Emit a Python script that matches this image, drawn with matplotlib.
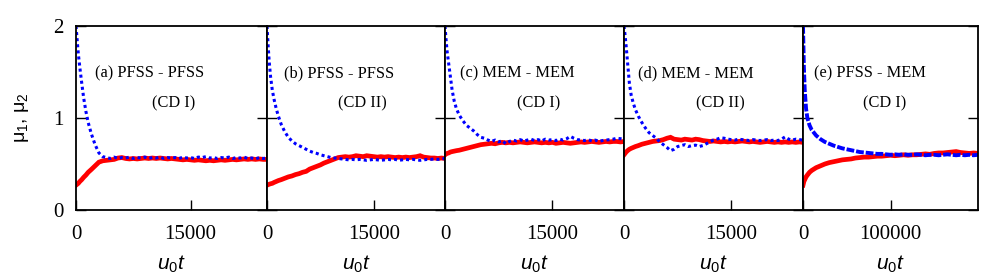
import matplotlib
matplotlib.use("Agg")
import matplotlib.pyplot as plt

plt.rcParams['mathtext.fontset'] = 'custom'
plt.rcParams['mathtext.rm'] = 'Liberation Sans'
plt.rcParams['mathtext.it'] = 'Liberation Sans:italic'

# ---------------- data ----------------
t_short = [0, 150, 300, 500, 750, 1000, 1300, 1600, 2000, 2500, 3000, 3500,
           4000, 4500, 5000, 5500, 6000, 6500, 7000, 7500, 8000, 8500, 9000, 9500,
           10000, 10500, 11000, 11500, 12000, 12500, 13000, 13500, 14000, 14500,
           15000, 15500, 16000, 16500, 17000, 17500, 18000, 18500, 19000, 19500,
           20000, 20500, 21000, 21500, 22000, 22500, 23000, 23500, 24000, 24500, 25000]

t_long = [0, 1000, 2000, 3500, 5000, 7500, 10000, 15000, 20000, 25000, 30000, 35000, 40000,
          45000, 50000, 55000, 60000, 65000, 70000, 75000, 80000, 85000, 90000, 95000,
          100000, 105000, 110000, 115000, 120000, 125000, 130000, 135000, 140000, 145000,
          150000, 155000, 160000, 165000, 170000, 175000, 180000, 185000, 190000, 195000, 200000]

mu2_a = [2.00, 1.85, 1.70, 1.55, 1.38, 1.22, 1.07, 0.95, 0.83, 0.71, 0.62, 0.58,
         0.57, 0.56, 0.575, 0.56, 0.57, 0.565, 0.575, 0.56, 0.57, 0.565, 0.575, 0.56,
         0.57, 0.565, 0.575, 0.56, 0.57, 0.565, 0.57, 0.56, 0.575, 0.565,
         0.57, 0.56, 0.575, 0.57, 0.58, 0.565, 0.57, 0.56, 0.57, 0.565,
         0.575, 0.56, 0.57, 0.565, 0.575, 0.56, 0.565, 0.555, 0.57, 0.56, 0.565]
mu1_a = [0.27, 0.28, 0.29, 0.31, 0.33, 0.355, 0.38, 0.41, 0.44, 0.48, 0.52, 0.535,
         0.54, 0.545, 0.55, 0.565, 0.57, 0.56, 0.555, 0.56, 0.555, 0.56, 0.565, 0.56,
         0.565, 0.56, 0.565, 0.56, 0.555, 0.56, 0.555, 0.55, 0.545, 0.55,
         0.545, 0.54, 0.545, 0.54, 0.535, 0.54, 0.535, 0.54, 0.545, 0.54,
         0.545, 0.55, 0.545, 0.55, 0.555, 0.55, 0.555, 0.55, 0.555, 0.55, 0.55]

mu2_b = [2.00, 1.80, 1.62, 1.45, 1.30, 1.20, 1.10, 1.02, 0.93, 0.85, 0.79, 0.75,
         0.72, 0.70, 0.68, 0.66, 0.64, 0.625, 0.615, 0.60, 0.59, 0.58, 0.57, 0.565,
         0.56, 0.555, 0.55, 0.545, 0.55, 0.545, 0.55, 0.545, 0.54, 0.545,
         0.55, 0.545, 0.54, 0.545, 0.55, 0.545, 0.55, 0.54, 0.545, 0.55,
         0.545, 0.55, 0.545, 0.54, 0.545, 0.55, 0.55, 0.555, 0.55, 0.555, 0.56]
mu1_b = [0.27, 0.275, 0.28, 0.285, 0.29, 0.30, 0.31, 0.32, 0.33, 0.345, 0.36, 0.37,
         0.385, 0.395, 0.41, 0.42, 0.445, 0.46, 0.475, 0.49, 0.51, 0.525, 0.54, 0.555,
         0.57, 0.575, 0.58, 0.575, 0.58, 0.59, 0.585, 0.58, 0.59, 0.585,
         0.58, 0.575, 0.58, 0.575, 0.58, 0.575, 0.57, 0.575, 0.57, 0.575,
         0.57, 0.575, 0.58, 0.59, 0.575, 0.57, 0.565, 0.565, 0.56, 0.565, 0.56]

mu2_c = [2.00, 1.85, 1.72, 1.60, 1.45, 1.30, 1.18, 1.10, 1.03, 0.97, 0.92, 0.89,
         0.86, 0.82, 0.79, 0.78, 0.76, 0.745, 0.76, 0.74, 0.755, 0.72, 0.745, 0.76,
         0.75, 0.765, 0.75, 0.76, 0.77, 0.755, 0.765, 0.75, 0.77, 0.76,
         0.765, 0.755, 0.77, 0.76, 0.775, 0.80, 0.78, 0.765, 0.76, 0.755,
         0.765, 0.75, 0.76, 0.745, 0.755, 0.76, 0.765, 0.77, 0.78, 0.775, 0.77]
mu1_c = [0.60, 0.61, 0.615, 0.62, 0.63, 0.635, 0.64, 0.645, 0.65, 0.66, 0.67, 0.68,
         0.69, 0.70, 0.71, 0.715, 0.72, 0.725, 0.72, 0.73, 0.735, 0.73, 0.735, 0.73,
         0.735, 0.74, 0.735, 0.73, 0.735, 0.74, 0.735, 0.73, 0.735, 0.73,
         0.735, 0.725, 0.73, 0.735, 0.73, 0.725, 0.73, 0.735, 0.74, 0.735,
         0.74, 0.745, 0.74, 0.735, 0.74, 0.745, 0.74, 0.745, 0.745, 0.74, 0.745]

mu2_d = [2.00, 1.90, 1.78, 1.60, 1.38, 1.25, 1.16, 1.09, 1.02, 0.95, 0.89, 0.84,
         0.81, 0.78, 0.74, 0.71, 0.68, 0.645, 0.66, 0.69, 0.70, 0.71, 0.69, 0.70,
         0.705, 0.69, 0.70, 0.72, 0.74, 0.76, 0.77, 0.785, 0.78, 0.77,
         0.765, 0.76, 0.77, 0.765, 0.76, 0.755, 0.765, 0.76, 0.755, 0.76,
         0.765, 0.755, 0.76, 0.755, 0.77, 0.795, 0.77, 0.76, 0.77, 0.765, 0.76]
mu1_d = [0.60, 0.615, 0.63, 0.645, 0.66, 0.67, 0.68, 0.69, 0.70, 0.715, 0.725, 0.735,
         0.745, 0.75, 0.755, 0.765, 0.78, 0.79, 0.77, 0.765, 0.76, 0.77, 0.765, 0.76,
         0.77, 0.765, 0.755, 0.75, 0.745, 0.75, 0.745, 0.74, 0.745, 0.74,
         0.745, 0.74, 0.745, 0.75, 0.745, 0.74, 0.745, 0.74, 0.735, 0.74,
         0.745, 0.74, 0.735, 0.74, 0.735, 0.74, 0.735, 0.74, 0.735, 0.74, 0.735]

mu2_e = [2.00, 1.55, 1.30, 1.10, 1.00, 0.92, 0.87, 0.81, 0.77, 0.74, 0.72, 0.70, 0.685,
         0.67, 0.66, 0.65, 0.64, 0.63, 0.625, 0.62, 0.615, 0.61, 0.61, 0.605,
         0.60, 0.605, 0.60, 0.605, 0.60, 0.60, 0.605, 0.60, 0.595, 0.60,
         0.60, 0.595, 0.60, 0.605, 0.60, 0.595, 0.60, 0.595, 0.60, 0.595, 0.60]
mu1_e = [0.27, 0.31, 0.33, 0.36, 0.38, 0.41, 0.43, 0.46, 0.48, 0.50, 0.515, 0.525, 0.535,
         0.545, 0.55, 0.555, 0.565, 0.57, 0.575, 0.575, 0.58, 0.585, 0.585, 0.59,
         0.595, 0.59, 0.595, 0.60, 0.595, 0.60, 0.60, 0.605, 0.61, 0.605,
         0.615, 0.62, 0.62, 0.625, 0.63, 0.635, 0.625, 0.62, 0.615, 0.62, 0.615]

panel_titles = ["(a) PFSS - PFSS", "(b) PFSS - PFSS", "(c) MEM - MEM",
                "(d) MEM - MEM", "(e) PFSS - MEM"]
panel_cd = ["(CD I)", "(CD II)", "(CD I)", "(CD II)", "(CD I)"]
x_ticks_short = [0, 15000]
x_ticks_long = [0, 100000]
y_ticks = [0, 1, 2]

panels = [
    (t_short, mu1_a, mu2_a, 25000, x_ticks_short),
    (t_short, mu1_b, mu2_b, 25000, x_ticks_short),
    (t_short, mu1_c, mu2_c, 25000, x_ticks_short),
    (t_short, mu1_d, mu2_d, 25000, x_ticks_short),
    (t_long, mu1_e, mu2_e, 200000, x_ticks_long),
]

# ---------------- layout ----------------
W, H = 981, 278
fig = plt.figure(figsize=(W / 100, H / 100), dpi=100)
lefts = [76, 267, 445, 624, 803]
rights = [267, 445, 624, 803, 978]
top_px, bot_px = 26, 210
title_x = [0.10, 0.097, 0.084, 0.08, 0.06]
cd_x = [0.40, 0.40, 0.40, 0.40, 0.345]

serif = "Liberation Serif"
sans = "Liberation Sans"

for i, (t, m1, m2, xmax, xt) in enumerate(panels):
    ax = fig.add_axes([lefts[i] / W, (H - bot_px) / H,
                       (rights[i] - lefts[i]) / W, (bot_px - top_px) / H])
    ax.plot(t, m1, color="#ff0000", lw=3.4, solid_joinstyle="miter")
    if i == 4:
        ax.plot(t, m2, color="#0000ff", lw=2.8, linestyle=(0, (2, 0.5)))
    else:
        ax.plot(t, m2, color="#0000ff", lw=2.2, linestyle=(0, (1, 1.0)))
    ax.set_xlim(0, xmax)
    ax.set_ylim(0, 2)
    ax.set_xticks(xt)
    ax.set_yticks(y_ticks)
    ax.tick_params(axis="y", direction="in", left=True, right=True, length=7, width=1)
    ax.tick_params(axis="x", direction="in", bottom=True, top=False, length=7, width=1,
                   pad=11)
    ax.set_xticklabels([str(v) for v in xt], fontfamily=serif, fontsize=15)
    if i == 0:
        ax.set_yticklabels([str(v) for v in y_ticks], fontfamily=serif, fontsize=15)
        ax.tick_params(axis="y", pad=9)
        ax.set_ylabel("μ$_{\\mathit{1}}$, μ$_{\\mathit{2}}$", fontfamily=sans,
                      fontsize=14, labelpad=16)
    else:
        ax.set_yticklabels([])
    for s in ax.spines.values():
        s.set_linewidth(1.3)
    ax.set_xlabel(r"$\mathit{u}_{\mathit{0}}\mathit{t}$", fontsize=15, labelpad=7)
    ax.text(title_x[i], 0.74, panel_titles[i], transform=ax.transAxes,
            fontfamily=serif, fontsize=11.8, va="center", ha="left")
    ax.text(cd_x[i], 0.58, panel_cd[i], transform=ax.transAxes,
            fontfamily=serif, fontsize=11.8, va="center", ha="left")

fig.savefig("out.png", dpi=100)
